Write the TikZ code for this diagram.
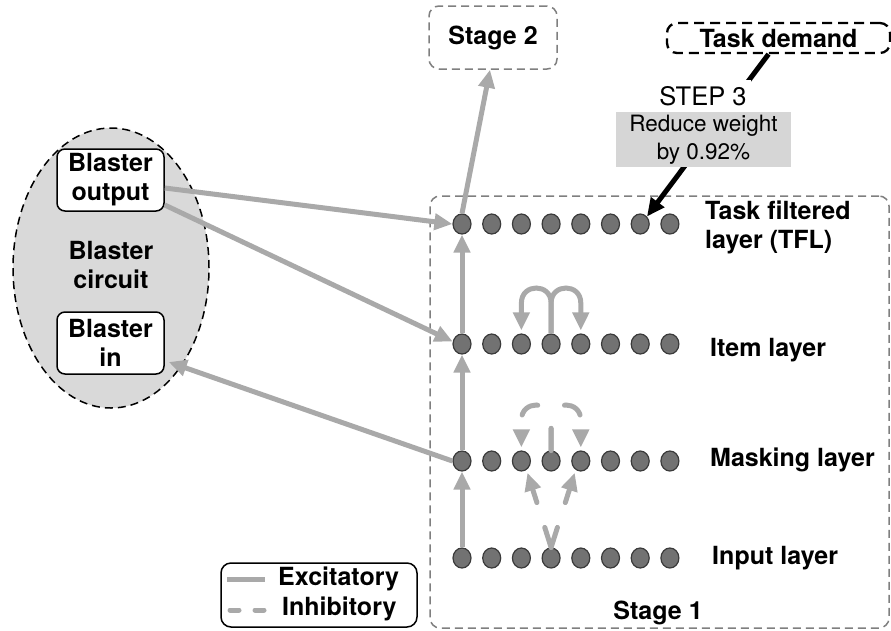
\documentclass[tikz,border=0pt]{standalone}
\usepackage{fontspec}
\setmainfont{TeX Gyre Heros}
\usetikzlibrary{arrows.meta,shapes.geometric}
\definecolor{exc}{HTML}{A9A9A9}
\definecolor{neuronfill}{HTML}{727272}
\definecolor{neuronedge}{HTML}{3A3A3A}
\definecolor{circuitfill}{HTML}{D9D9D9}
\definecolor{notefill}{HTML}{D6D6D6}
\definecolor{framegray}{HTML}{7F7F7F}

\begin{document}
\begin{tikzpicture}[x=1pt,y=-1pt,
  bold/.style={font=\fontsize{25}{29}\selectfont\bfseries, inner sep=0pt},
  plain/.style={font=\fontsize{22.5}{28}\selectfont, inner sep=0pt},
  neuron/.style={ellipse, minimum width=18pt, minimum height=20pt, inner sep=0pt,
    fill=neuronfill, draw=neuronedge, line width=1.2pt},
  stagebox/.style={draw=framegray, line width=1.5pt, dash pattern=on 8pt off 5pt,
    rounded corners=10pt, bold, align=center},
  demandbox/.style={draw=black, line width=2.3pt, dash pattern=on 10pt off 6pt,
    rounded corners=10pt, bold},
  blasterbox/.style={draw=black, fill=white, line width=1.5pt, rounded corners=8pt,
    bold, align=center},
  excite/.style={draw=exc, line width=5pt, -{Triangle[length=18pt,width=16pt]}},
  inhib/.style={excite, line cap=round},
  command/.style={draw=black, line width=5pt, -{Triangle[length=18pt,width=16pt]}},
]
\useasboundingbox (0,0) rectangle (891,630);

% Stage 1 frame and label
\node[stagebox, minimum width=459pt, minimum height=432pt] (stage1) at (659.5,412) {};
\node[bold] (stage1lbl) at (658,613) {Stage 1};

% Stage 2 and task demand boxes
\node[stagebox, minimum width=128pt, minimum height=63pt] (stage2) at (493,37.5) {Stage 2};
\node[demandbox, minimum width=223pt, minimum height=30pt] (demand) at (778.5,38) {Task demand};

% Blaster circuit
\node[ellipse, fill=circuitfill, draw=black, line width=1.5pt, dash pattern=on 8pt off 5pt,
  minimum width=196pt, minimum height=280pt] (circuit) at (111,268) {};
\node[bold, align=center] (circuitlbl) at (111,265) {Blaster\\circuit};
\node[blasterbox, minimum width=107pt, minimum height=62pt] (bout) at (110.5,180) {Blaster\\output};
\node[blasterbox, minimum width=107pt, minimum height=62pt] (bin) at (110.5,343) {Blaster\\in};

% Layers of units
\foreach \r/\y in {tfl/224,item/344,mask/461,inp/558}
  \foreach \k in {0,...,7}
    \node[neuron] (\r\k) at ({462+29.7*\k},\y) {};

% Layer names
\node[bold, anchor=west, align=left] (tfllbl) at (705,227) {Task filtered\\layer (TFL)};
\node[bold, anchor=west] (itemlbl) at (710,350) {Item layer};
\node[bold, anchor=west] (masklbl) at (710,460) {Masking layer};
\node[bold, anchor=west] (inplbl) at (712,558) {Input layer};

% Task demand acting on the TFL
\draw[command] ([xshift=-10pt]demand.south) -- (tfl6.north east);
\node[font=\fontsize{25.5}{30}\selectfont, fill=white, inner sep=0pt,
  minimum width=96pt, minimum height=32pt] (step3) at (703,96) {STEP 3};
\node[plain, fill=notefill, align=center, minimum width=175pt, minimum height=55pt]
  (note) at (703.5,139.5) {Reduce weight\\by 0.92\%};

% Feed-forward excitation
\draw[excite] (inp0.north) -- (mask0.south);
\draw[excite] (mask0.north) -- (item0.south);
\draw[excite] (item0.north) -- (tfl0.south);
\draw[excite] (tfl0.north) -- ([xshift=-3pt]stage2.south);

% Connections with the Blaster circuit
\draw[excite] ([yshift=-8pt]bout.east) -- (tfl0.west);
\draw[excite] ([yshift=-25pt]bout.east) -- (item0.165);
\draw[excite] (mask0.west) -- ([xshift=4pt,yshift=-19pt]bin.east);

% Lateral excitation in the item layer
\draw[excite, shorten >=3pt] (item3.north) -- (551.1,303)
  .. controls (551.1,283) and (521.4,283) .. (521.4,303) -- (item2.north);
\draw[excite, shorten >=3pt] (item3.north) -- (551.1,303)
  .. controls (551.1,283) and (580.8,283) .. (580.8,303) -- (item4.north);

% Lateral inhibition in the masking layer
\draw[inhib, shorten >=3pt, dash pattern=on 22pt off 30.5pt on 20pt off 60pt]
  (mask3.north) -- (551.1,420)
  .. controls (551.1,400) and (521.4,400) .. (521.4,420) -- (mask2.north);
\draw[inhib, shorten >=3pt, dash pattern=on 22pt off 30.5pt on 20pt off 60pt]
  (mask3.north) -- (551.1,420)
  .. controls (551.1,400) and (580.8,400) .. (580.8,420) -- (mask4.north);

% Inhibition from the input layer to the masking layer
\draw[inhib, shorten >=3pt, dash pattern=on 21pt off 26pt] (inp3.north) -- (mask2.-60);
\draw[inhib, shorten >=3pt, dash pattern=on 21pt off 26pt] (inp3.north) -- (mask4.-120);

% Legend
\node[draw=black, line width=1.5pt, rounded corners=10pt,
  minimum width=196pt, minimum height=64pt] (legend) at (319,595) {};
\draw[exc, line width=5pt] (227,579) -- (265,579);
\draw[exc, line width=5pt, line cap=round, dash pattern=on 9pt off 16pt] (230,610) -- (265,610);
\node[bold, anchor=west] (exclbl) at (278,579) {Excitatory};
\node[bold, anchor=west] (inhlbl) at (282,609) {Inhibitory};
\end{tikzpicture}
\end{document}
